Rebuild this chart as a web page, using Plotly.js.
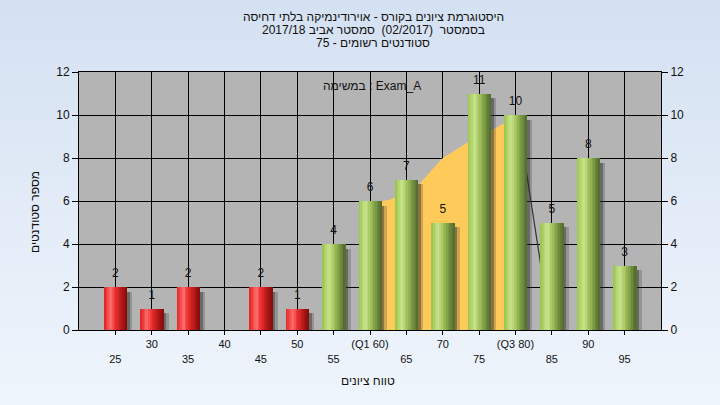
<!DOCTYPE html>
<html>
<head>
<meta charset="utf-8">
<script src="https://cdn.plot.ly/plotly-3.0.1.min.js"></script>
<style>
html,body{margin:0;padding:0;}
body{width:720px;height:405px;background:linear-gradient(to bottom,#d4e1f2 0%,#e2ebf7 50%,#eff5fc 100%);}
#chart{width:720px;height:405px;}
</style>
</head>
<body>
<div id="chart"></div>
<script>
// ---- data ----
const grades = [25, 30, 35, 40, 45, 50, 55, 60, 65, 70, 75, 80, 85, 90, 95];
const counts = [2, 1, 2, 0, 2, 1, 4, 6, 7, 5, 11, 10, 5, 8, 3];
const tickLabels = ['25', '30', '35', '40', '45', '50', '55', '(Q1 60)', '65', '70', '75', '(Q3 80)', '85', '90', '95'];
const passMark = 55;
const iqrCurveX = [60, 61.7, 62.6, 66.4, 70, 73.3, 76.7, 78.4, 81];
const iqrCurveY = [6, 6, 6.05, 6.65, 8.0, 8.7, 9.3, 9.6, 9.9];
const tailX = [81.0, 84.8];
const tailY = [8.46, 0.1];
const titleLines = [
  'היסטוגרמת ציונים בקורס - אוירודינמיקה בלתי דחיסה',
  'בסמסטר  (02/2017)  סמסטר אביב 2017/18',
  'סטודנטים רשומים - 75'
];
const legendText = 'במשימה : Exam_A';
const xTitle = 'טווח ציונים';
const yTitle = 'מספר סטודנטים';

// ---- styling helpers ----
const FONT = 'Liberation Sans, Arial, DejaVu Sans, sans-serif';
const barW = 3.16;
const N = 14;
const greenStops = [[0,[150,195,72]],[0.3,[202,228,142]],[0.5,[165,198,95]],[0.8,[112,142,62]],[1,[80,104,42]]];
const redStops = [[0,[226,30,30]],[0.3,[255,112,112]],[0.5,[235,45,45]],[0.8,[172,22,22]],[1,[128,12,12]]];
function interp(stops, t){
  for(let i=1;i<stops.length;i++){
    if(t<=stops[i][0]){
      const a=stops[i-1], b=stops[i];
      const f=(t-a[0])/(b[0]-a[0]);
      const c=a[1].map((v,k)=>Math.round(v+(b[1][k]-v)*f));
      return 'rgb('+c.join(',')+')';
    }
  }
  const c=stops[stops.length-1][1];
  return 'rgb('+c.join(',')+')';
}

const traces = [];
// IQR shaded area (base subplot, above grid, below bars)
traces.push({
  type:'scatter', x:iqrCurveX, y:iqrCurveY, mode:'lines', fill:'tozeroy',
  fillcolor:'#fecb5a', line:{width:0, color:'#fecb5a'}, hoverinfo:'skip', xaxis:'x', yaxis:'y'
});
traces.push({
  type:'scatter', x:tailX, y:tailY, mode:'lines',
  line:{width:1.2, color:'#333333'}, hoverinfo:'skip', xaxis:'x', yaxis:'y'
});
// shadows
const shadowLayers = [[0.75,'rgba(50,50,50,0.25)'],[0.4,'rgba(40,40,40,0.4)']];
shadowLayers.forEach(s=>{
  traces.push({
    type:'bar', x:grades, y:counts.map(v=>Math.max(v-0.22,0)),
    width:barW, offset:-barW/2+s[0],
    marker:{color:s[1], line:{width:0}}, hoverinfo:'skip', xaxis:'x2', yaxis:'y2'
  });
});
// cylinder bars built of strips
for(let i=0;i<N;i++){
  const t=(i+0.5)/N;
  traces.push({
    type:'bar', x:grades, y:counts,
    width:barW/N*1.25, offset:-barW/2+i*barW/N,
    marker:{color:grades.map(g=> g<passMark ? interp(redStops,t) : interp(greenStops,t)), line:{width:0}},
    hoverinfo:'skip', xaxis:'x2', yaxis:'y2'
  });
}
// value labels
traces.push({
  type:'scatter', mode:'markers+text', x:grades, y:counts,
  marker:{size:9, opacity:0, color:'rgba(0,0,0,0)'},
  text:counts.map(v=> v>0 ? String(v) : ''),
  textposition:'top center', textfont:{family:FONT, size:12, color:'#111'},
  hoverinfo:'skip', xaxis:'x2', yaxis:'y2', cliponaxis:false
});

const yPix = p => (330-p)/258;
const xPix = p => (p-79)/582;
const annotations = [];
titleLines.forEach((t,i)=>{
  annotations.push({text:t, xref:'paper', yref:'paper', x:xPix(373), y:yPix(17+i*13),
    xanchor:'center', yanchor:'middle', showarrow:false, font:{family:FONT, size:12, color:'#111'}});
});
annotations.push({text:legendText, xref:'paper', yref:'paper', x:xPix(372), y:yPix(86),
  xanchor:'center', yanchor:'middle', showarrow:false, font:{family:FONT, size:12, color:'#111'}});
annotations.push({text:xTitle, xref:'paper', yref:'paper', x:xPix(368), y:yPix(381),
  xanchor:'center', yanchor:'middle', showarrow:false, font:{family:FONT, size:12, color:'#111'}});
annotations.push({text:yTitle, xref:'paper', yref:'paper', x:xPix(35), y:yPix(212), textangle:-90,
  xanchor:'center', yanchor:'middle', showarrow:false, font:{family:FONT, size:12, color:'#111'}});

const layout = {
  width:720, height:405,
  margin:{l:79, r:59, t:72, b:75, pad:0},
  paper_bgcolor:'rgba(0,0,0,0)', plot_bgcolor:'#b4b4b4',
  showlegend:false, barmode:'overlay', bargap:0,
  font:{family:FONT, size:12, color:'#111'},
  xaxis:{
    range:[20,100], tickvals:grades,
    ticktext:tickLabels.map((l,i)=> i%2===0 ? '<br>'+l : l),
    ticks:'outside', ticklen:4, tickcolor:'#000', tickfont:{family:FONT, size:11, color:'#111'},
    showgrid:true, gridcolor:'#000', gridwidth:1, zeroline:false,
    showline:true, linecolor:'#000', linewidth:1, mirror:true, fixedrange:true
  },
  yaxis:{
    range:[0,12], dtick:2, tick0:0, ticks:'outside', ticklen:6, tickcolor:'#000',
    tickfont:{family:FONT, size:12, color:'#111'},
    showgrid:true, gridcolor:'#000', gridwidth:1, zeroline:false,
    showline:true, linecolor:'#000', linewidth:1, fixedrange:true
  },
  xaxis2:{range:[20,100], overlaying:'x', visible:false, fixedrange:true},
  yaxis2:{
    range:[0,12], dtick:2, tick0:0, overlaying:'y', side:'right', ticks:'outside', ticklen:6, tickcolor:'#000',
    tickfont:{family:FONT, size:12, color:'#111'}, showgrid:false, zeroline:false,
    showline:true, linecolor:'#000', linewidth:1, fixedrange:true
  },
  annotations:annotations
};
Plotly.newPlot('chart', traces, layout, {displayModeBar:false, staticPlot:true});
</script>
</body>
</html>
